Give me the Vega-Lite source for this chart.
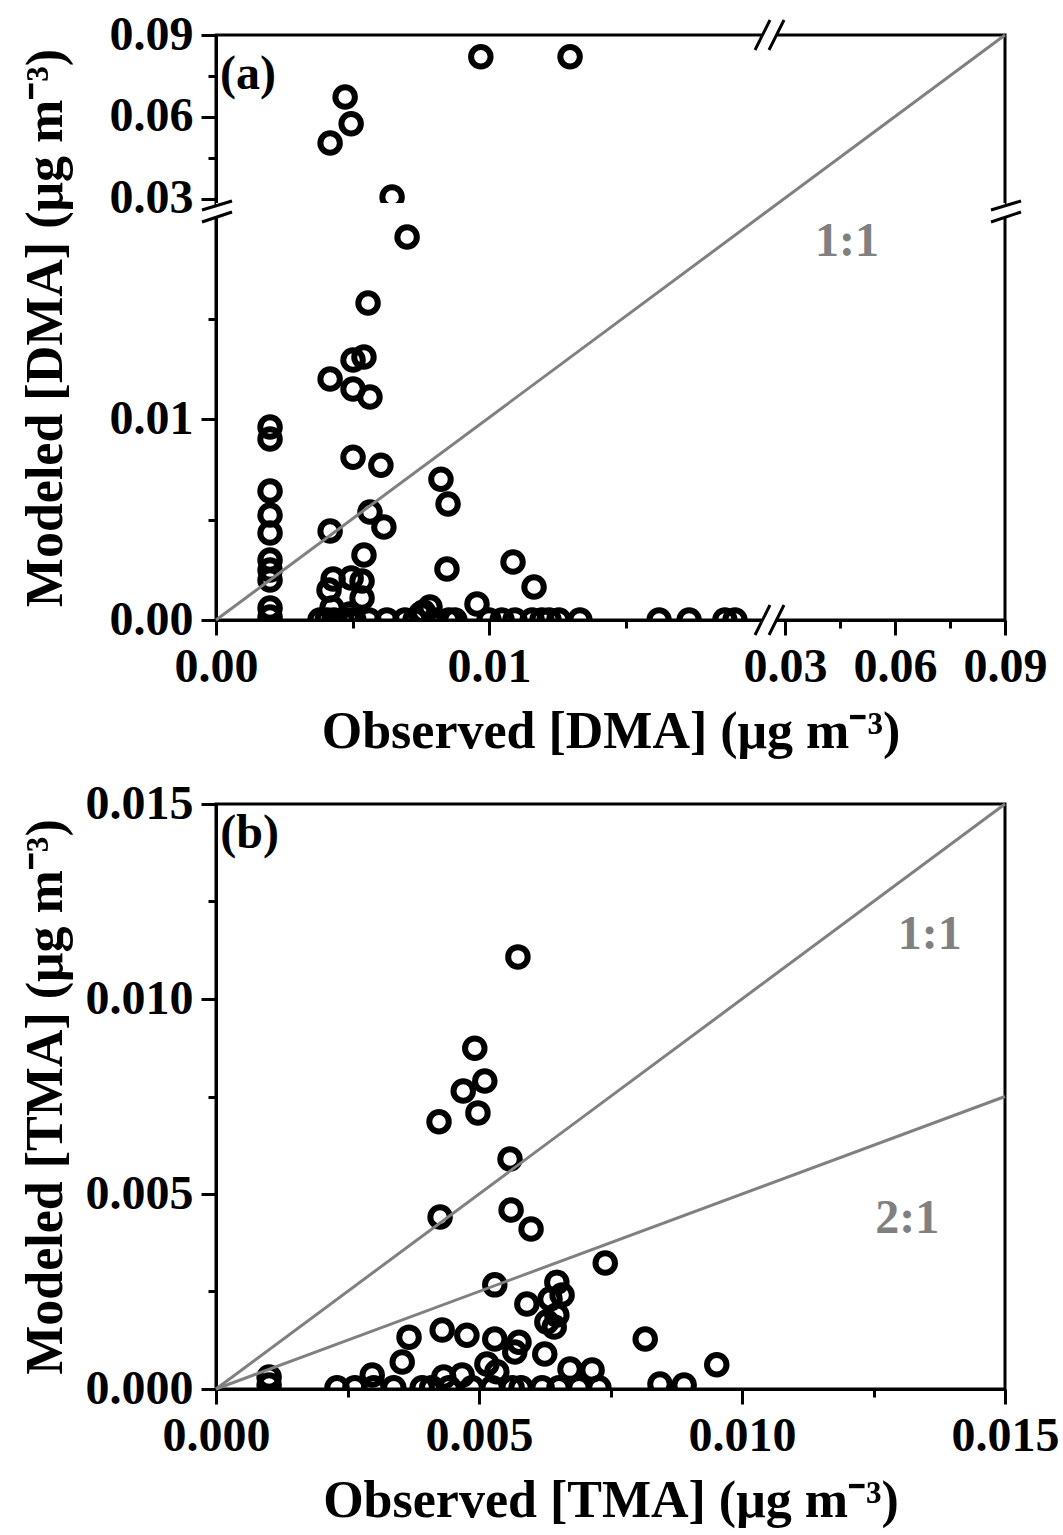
{
  "$schema": "https://vega.github.io/schema/vega-lite/v6.json",
  "background": "white",
  "padding": {"left": 17, "top": 9, "right": 5, "bottom": 5},
  "bounds": "flush",
  "spacing": 184,
  "config": {
    "font": "Liberation Serif",
    "view": {"stroke": "black", "strokeWidth": 3},
    "axis": {
      "domainColor": "black", "domainWidth": 3, "tickColor": "black", "tickWidth": 3,
      "labelFont": "Liberation Serif", "labelFontWeight": "bold", "labelFontSize": 48, "labelColor": "black",
      "titleFont": "Liberation Serif", "titleFontWeight": "bold", "titleFontSize": 52, "titleColor": "black",
      "grid": false, "labelPadding": 8, "labelOverlap": false, "labelFlush": false, "labelBound": false
    }
  },
  "datasets": {
    "dma": [
      {"obs": 0.0097, "mod": 0.082}, {"obs": 0.01297, "mod": 0.082}, {"obs": 0.00473, "mod": 0.0673},
      {"obs": 0.00495, "mod": 0.0575}, {"obs": 0.00418, "mod": 0.0505}, {"obs": 0.00645, "mod": 0.0307},
      {"obs": 0.0070, "mod": 0.01905}, {"obs": 0.00557, "mod": 0.01577}, {"obs": 0.00542, "mod": 0.01308},
      {"obs": 0.00502, "mod": 0.01294}, {"obs": 0.00418, "mod": 0.01199}, {"obs": 0.00502, "mod": 0.01149},
      {"obs": 0.00564, "mod": 0.01109}, {"obs": 0.00198, "mod": 0.0096}, {"obs": 0.00198, "mod": 0.0090},
      {"obs": 0.00502, "mod": 0.0081}, {"obs": 0.00604, "mod": 0.0077}, {"obs": 0.00824, "mod": 0.0070},
      {"obs": 0.0085, "mod": 0.00577}, {"obs": 0.00198, "mod": 0.00642}, {"obs": 0.00198, "mod": 0.00522},
      {"obs": 0.00198, "mod": 0.00433}, {"obs": 0.00564, "mod": 0.00537}, {"obs": 0.00615, "mod": 0.00463},
      {"obs": 0.00418, "mod": 0.00443}, {"obs": 0.00542, "mod": 0.00323}, {"obs": 0.00198, "mod": 0.00299},
      {"obs": 0.00198, "mod": 0.00249}, {"obs": 0.00198, "mod": 0.00199}, {"obs": 0.00846, "mod": 0.00254},
      {"obs": 0.00429, "mod": 0.00204}, {"obs": 0.00414, "mod": 0.00149}, {"obs": 0.00495, "mod": 0.00209},
      {"obs": 0.00535, "mod": 0.00194}, {"obs": 0.00535, "mod": 0.00109}, {"obs": 0.00198, "mod": 0.0006},
      {"obs": 0.00198, "mod": 0.00015}, {"obs": 0.00956, "mod": 0.0008}, {"obs": 0.00784, "mod": 0.00065},
      {"obs": 0.01088, "mod": 0.00289}, {"obs": 0.01165, "mod": 0.00164}, {"obs": 0.0076, "mod": 0.0004},
      {"obs": 0.00425, "mod": 0.0006}, {"obs": 0.0049, "mod": 0.0003}, {"obs": 0.0075, "mod": 0.0003},
      {"obs": 0.00381, "mod": 0}, {"obs": 0.00407, "mod": 0}, {"obs": 0.00432, "mod": 0},
      {"obs": 0.00462, "mod": 0}, {"obs": 0.00487, "mod": 0}, {"obs": 0.00505, "mod": 0},
      {"obs": 0.0056, "mod": 0}, {"obs": 0.00626, "mod": 0}, {"obs": 0.00692, "mod": 0},
      {"obs": 0.00729, "mod": 0}, {"obs": 0.00802, "mod": 0}, {"obs": 0.00853, "mod": 0},
      {"obs": 0.00875, "mod": 0}, {"obs": 0.01, "mod": 0}, {"obs": 0.01048, "mod": 0},
      {"obs": 0.01095, "mod": 0}, {"obs": 0.01158, "mod": 0}, {"obs": 0.01194, "mod": 0},
      {"obs": 0.0122, "mod": 0}, {"obs": 0.01256, "mod": 0}, {"obs": 0.01333, "mod": 0},
      {"obs": 0.01623, "mod": 0}, {"obs": 0.01733, "mod": 0}, {"obs": 0.01864, "mod": 0},
      {"obs": 0.01901, "mod": 0}
    ],
    "tma": [
      {"obs": 0.00574, "mod": 0.01108}, {"obs": 0.00492, "mod": 0.00874}, {"obs": 0.00511, "mod": 0.0079},
      {"obs": 0.0047, "mod": 0.00764}, {"obs": 0.00498, "mod": 0.00708}, {"obs": 0.00424, "mod": 0.00685},
      {"obs": 0.00559, "mod": 0.0059}, {"obs": 0.00426, "mod": 0.00441}, {"obs": 0.00561, "mod": 0.00459},
      {"obs": 0.00599, "mod": 0.0041}, {"obs": 0.0074, "mod": 0.00323}, {"obs": 0.0053, "mod": 0.00267},
      {"obs": 0.00648, "mod": 0.00274}, {"obs": 0.00658, "mod": 0.00241}, {"obs": 0.00635, "mod": 0.00231},
      {"obs": 0.00648, "mod": 0.0019}, {"obs": 0.00629, "mod": 0.00172}, {"obs": 0.00643, "mod": 0.00159},
      {"obs": 0.00591, "mod": 0.00218}, {"obs": 0.0043, "mod": 0.00151}, {"obs": 0.00367, "mod": 0.00133},
      {"obs": 0.00477, "mod": 0.00138}, {"obs": 0.0053, "mod": 0.00128}, {"obs": 0.00576, "mod": 0.0012},
      {"obs": 0.00568, "mod": 0.00095}, {"obs": 0.00625, "mod": 0.0009}, {"obs": 0.00354, "mod": 0.00069},
      {"obs": 0.00515, "mod": 0.00064}, {"obs": 0.00534, "mod": 0.00044}, {"obs": 0.00673, "mod": 0.00051},
      {"obs": 0.00715, "mod": 0.00049}, {"obs": 0.00297, "mod": 0.00036}, {"obs": 0.00433, "mod": 0.00031},
      {"obs": 0.00468, "mod": 0.00036}, {"obs": 0.00816, "mod": 0.00128}, {"obs": 0.00952, "mod": 0.00062},
      {"obs": 0.00844, "mod": 0.00013}, {"obs": 0.0089, "mod": 0.0001}, {"obs": 0.00101, "mod": 0.00031},
      {"obs": 0.00101, "mod": 0.0001}, {"obs": 0.0023, "mod": 0.00003}, {"obs": 0.00264, "mod": 0.00003},
      {"obs": 0.003, "mod": 0.00003}, {"obs": 0.00338, "mod": 0.00003}, {"obs": 0.00392, "mod": 0.00003},
      {"obs": 0.0041, "mod": 0.00003}, {"obs": 0.00443, "mod": 0.00003}, {"obs": 0.00487, "mod": 0.00003},
      {"obs": 0.00525, "mod": 0.00003}, {"obs": 0.00563, "mod": 0.00003}, {"obs": 0.0058, "mod": 0.00003},
      {"obs": 0.0062, "mod": 0.00003}, {"obs": 0.00652, "mod": 0.00003}, {"obs": 0.0069, "mod": 0.00003},
      {"obs": 0.00728, "mod": 0.00003}
    ],
    "gaps": [
      {"ax": 0.02024, "ay": 0, "bx": 0.02704, "by": 0},
      {"ax": 0.02024, "ay": 0.09, "bx": 0.02704, "by": 0.09},
      {"ax": 0, "ay": 0.02057, "bx": 0, "by": 0.02708},
      {"ax": 0.09, "ay": 0.02057, "bx": 0.09, "by": 0.02708}
    ],
    "slashes": [
      {"ax": 0.019744, "ay": -0.000746, "bx": 0.023886, "by": 0.000746},
      {"ax": 0.0234, "ay": -0.000746, "bx": 0.029727, "by": 0.000746},
      {"ax": 0.019744, "ay": 0.084509, "bx": 0.023886, "by": 0.095491},
      {"ax": 0.0234, "ay": 0.084509, "bx": 0.029727, "by": 0.095491},
      {"ax": -0.000513, "ay": 0.024533, "bx": 0.000586, "by": 0.029232},
      {"ax": -0.000513, "ay": 0.019801, "bx": 0.000586, "by": 0.0234},
      {"ax": 0.086177, "ay": 0.024533, "bx": 0.094364, "by": 0.029232},
      {"ax": 0.086177, "ay": 0.019801, "bx": 0.094364, "by": 0.0234}
    ]
  },
  "vconcat": [
    {
      "width": 789, "height": 585,
      "encoding": {
        "x": {"type": "quantitative", "scale": {"domain": [0, 0.02, 0.0285, 0.09], "range": [0, 546, 563.5, 789], "nice": false, "zero": false}},
        "y": {"type": "quantitative", "scale": {"domain": [0, 0.02, 0.0285, 0.09], "range": [585, 183, 168, 0], "nice": false, "zero": false}}
      },
      "layer": [
        {
          "data": {"name": "dma"},
          "mark": {"type": "point", "shape": "circle", "filled": false, "stroke": "black", "strokeWidth": 6, "size": 380, "opacity": 1, "clip": true},
          "encoding": {
            "x": {"field": "obs", "type": "quantitative",
              "axis": {"values": [0, 0.005, 0.01, 0.015, 0.03, 0.045, 0.06, 0.075, 0.09],
                "labelExpr": "indexof([0.005, 0.015, 0.045, 0.075], datum.value) >= 0 ? '' : format(datum.value, '.2f')",
                "tickSize": {"condition": {"test": "indexof([0.005, 0.015, 0.045, 0.075], datum.value) >= 0", "value": 8}, "value": 15},
                "title": "Observed [DMA] (μg m⁻³)", "titleX": 394.5, "titleY": 127, "titleBaseline": "alphabetic"}},
            "y": {"field": "mod", "type": "quantitative",
              "axis": {"values": [0, 0.005, 0.01, 0.015, 0.03, 0.045, 0.06, 0.075, 0.09],
                "labelExpr": "indexof([0.005, 0.015, 0.045, 0.075], datum.value) >= 0 ? '' : format(datum.value, '.2f')",
                "tickSize": {"condition": {"test": "indexof([0.005, 0.015, 0.045, 0.075], datum.value) >= 0", "value": 8}, "value": 15},
                "title": "Modeled [DMA] (μg m⁻³)", "titleX": -155, "titleY": 292.5, "titleAngle": 270, "titleBaseline": "alphabetic", "titleAlign": "center"}}
          }
        },
        {
          "data": {"values": [{"x1": 0, "x2": 0.09, "y1": 0.02, "y2": 0.0285}]},
          "mark": {"type": "rect", "fill": "white", "stroke": null},
          "encoding": {
            "x": {"field": "x1", "type": "quantitative"}, "x2": {"field": "x2"},
            "y": {"field": "y1", "type": "quantitative"}, "y2": {"field": "y2"}
          }
        },
        {
          "data": {"values": [{"ox": 0, "oy": 0}, {"ox": 0.09, "oy": 0.09}]},
          "mark": {"type": "line", "color": "#808080", "strokeWidth": 3},
          "encoding": {"x": {"field": "ox", "type": "quantitative"}, "y": {"field": "oy", "type": "quantitative"}}
        },
        {
          "data": {"values": [{"tx": 0.0469, "ty": 0.0188, "label": "1:1"}]},
          "mark": {"type": "text", "font": "Liberation Serif", "fontWeight": "bold", "fontSize": 48, "color": "#808080", "align": "center", "baseline": "middle"},
          "encoding": {"x": {"field": "tx", "type": "quantitative"}, "y": {"field": "ty", "type": "quantitative"}, "text": {"field": "label"}}
        },
        {
          "data": {"values": [{"tx": 0.00015, "ty": 0.0754, "label": "(a)"}]},
          "mark": {"type": "text", "font": "Liberation Serif", "fontWeight": "bold", "fontSize": 48, "color": "black", "align": "left", "baseline": "middle"},
          "encoding": {"x": {"field": "tx", "type": "quantitative"}, "y": {"field": "ty", "type": "quantitative"}, "text": {"field": "label"}}
        },
        {
          "data": {"name": "gaps"},
          "mark": {"type": "rule", "color": "white", "strokeWidth": 7},
          "encoding": {
            "x": {"field": "ax", "type": "quantitative"}, "y": {"field": "ay", "type": "quantitative"},
            "x2": {"field": "bx"}, "y2": {"field": "by"}
          }
        },
        {
          "data": {"name": "slashes"},
          "mark": {"type": "rule", "color": "black", "strokeWidth": 3},
          "encoding": {
            "x": {"field": "ax", "type": "quantitative"}, "y": {"field": "ay", "type": "quantitative"},
            "x2": {"field": "bx"}, "y2": {"field": "by"}
          }
        }
      ]
    },
    {
      "width": 789, "height": 585,
      "encoding": {
        "x": {"type": "quantitative", "scale": {"domain": [0, 0.015], "nice": false, "zero": false}},
        "y": {"type": "quantitative", "scale": {"domain": [0, 0.015], "nice": false, "zero": false}}
      },
      "layer": [
        {
          "data": {"name": "tma"},
          "mark": {"type": "point", "shape": "circle", "filled": false, "stroke": "black", "strokeWidth": 6, "size": 380, "opacity": 1, "clip": true},
          "encoding": {
            "x": {"field": "obs", "type": "quantitative",
              "axis": {"values": [0, 0.0025, 0.005, 0.0075, 0.01, 0.0125, 0.015],
                "labelExpr": "indexof([0.0025, 0.0075, 0.0125], datum.value) >= 0 ? '' : format(datum.value, '.3f')",
                "tickSize": {"condition": {"test": "indexof([0.0025, 0.0075, 0.0125], datum.value) >= 0", "value": 8}, "value": 15},
                "title": "Observed [TMA] (μg m⁻³)", "titleX": 394.5, "titleY": 127, "titleBaseline": "alphabetic"}},
            "y": {"field": "mod", "type": "quantitative",
              "axis": {"values": [0, 0.0025, 0.005, 0.0075, 0.01, 0.0125, 0.015],
                "labelExpr": "indexof([0.0025, 0.0075, 0.0125], datum.value) >= 0 ? '' : format(datum.value, '.3f')",
                "tickSize": {"condition": {"test": "indexof([0.0025, 0.0075, 0.0125], datum.value) >= 0", "value": 8}, "value": 15},
                "title": "Modeled [TMA] (μg m⁻³)", "titleX": -155, "titleY": 292.5, "titleAngle": 270, "titleBaseline": "alphabetic", "titleAlign": "center"}}
          }
        },
        {
          "data": {"values": [{"ox": 0, "oy": 0, "g": "1:1"}, {"ox": 0.015, "oy": 0.015, "g": "1:1"}, {"ox": 0, "oy": 0, "g": "2:1"}, {"ox": 0.015, "oy": 0.0075, "g": "2:1"}]},
          "mark": {"type": "line", "color": "#808080", "strokeWidth": 3},
          "encoding": {"x": {"field": "ox", "type": "quantitative"}, "y": {"field": "oy", "type": "quantitative"}, "detail": {"field": "g"}}
        },
        {
          "data": {"values": [{"tx": 0.01357, "ty": 0.01164, "label": "1:1"}, {"tx": 0.01314, "ty": 0.00436, "label": "2:1"}]},
          "mark": {"type": "text", "font": "Liberation Serif", "fontWeight": "bold", "fontSize": 48, "color": "#808080", "align": "center", "baseline": "middle"},
          "encoding": {"x": {"field": "tx", "type": "quantitative"}, "y": {"field": "ty", "type": "quantitative"}, "text": {"field": "label"}}
        },
        {
          "data": {"values": [{"tx": 0.00008, "ty": 0.01423, "label": "(b)"}]},
          "mark": {"type": "text", "font": "Liberation Serif", "fontWeight": "bold", "fontSize": 48, "color": "black", "align": "left", "baseline": "middle"},
          "encoding": {"x": {"field": "tx", "type": "quantitative"}, "y": {"field": "ty", "type": "quantitative"}, "text": {"field": "label"}}
        }
      ]
    }
  ]
}
